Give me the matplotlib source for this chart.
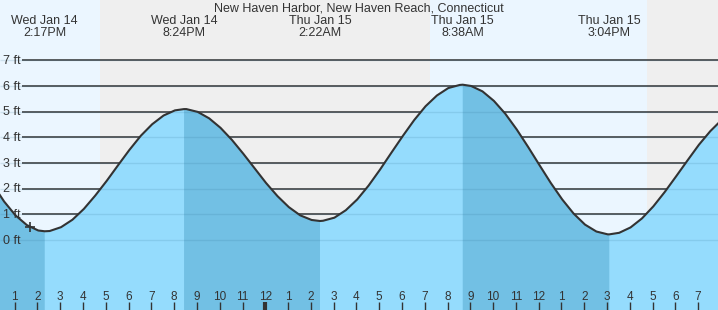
import numpy as np
import matplotlib
matplotlib.use("Agg")
import matplotlib.pyplot as plt
from matplotlib.transforms import blended_transform_factory

plt.rcParams['font.family'] = ['Liberation Sans', 'DejaVu Sans']

title = "New Haven Harbor, New Haven Reach, Connecticut"

# hours since Wed Jan 14 00:00, tide height in ft
hours = [12.0, 12.5, 13.0, 13.5, 14.0, 14.283, 14.5, 15.0, 15.5, 16.0, 16.5, 17.0,
         17.5, 18.0, 18.5, 19.0, 19.5, 20.0, 20.4, 20.5, 21.0, 21.5, 22.0, 22.5,
         23.0, 23.5, 24.0, 24.5, 25.0, 25.5, 26.0, 26.367, 26.5, 27.0, 27.5, 28.0,
         28.5, 29.0, 29.5, 30.0, 30.5, 31.0, 31.5, 32.0, 32.5, 32.633, 33.0, 33.5,
         34.0, 34.5, 35.0, 35.5, 36.0, 36.5, 37.0, 37.5, 38.0, 38.5, 39.0, 39.067,
         39.5, 40.0, 40.5, 41.0, 41.5, 42.0, 42.5, 43.0, 43.5, 44.0]
heights = [2.17, 1.50, 0.96, 0.58, 0.37, 0.34, 0.35, 0.50, 0.79, 1.21, 1.73, 2.30,
           2.91, 3.51, 4.06, 4.51, 4.85, 5.05, 5.10, 5.10, 4.99, 4.74, 4.37, 3.90,
           3.36, 2.79, 2.22, 1.71, 1.28, 0.96, 0.78, 0.74, 0.75, 0.87, 1.16, 1.58,
           2.12, 2.74, 3.40, 4.05, 4.67, 5.21, 5.63, 5.92, 6.04, 6.05, 6.00, 5.79,
           5.42, 4.92, 4.31, 3.63, 2.92, 2.22, 1.58, 1.03, 0.60, 0.33, 0.22, 0.22,
           0.28, 0.49, 0.84, 1.31, 1.87, 2.48, 3.10, 3.71, 4.24, 4.68]

extreme_times = [14.283, 20.4, 26.367, 32.633, 39.067]
extreme_days = ["Wed Jan 14", "Wed Jan 14", "Thu Jan 15", "Thu Jan 15", "Thu Jan 15"]
extreme_clock = ["2:17PM", "8:24PM", "2:22AM", "8:38AM", "3:04PM"]

falling_periods = [(12.0, 14.283), (20.4, 26.367), (32.633, 39.067)]
daylight = [(12.0, 16.71), (31.2, 40.71)]
darkness = [(16.71, 31.2), (40.71, 44.0)]

hour_ticks = list(range(13, 44))
hour_labels = ["1", "2", "3", "4", "5", "6", "7", "8", "9", "10", "11", "12",
               "1", "2", "3", "4", "5", "6", "7", "8", "9", "10", "11", "12",
               "1", "2", "3", "4", "5", "6", "7"]
midnight = 24
ft_ticks = [0, 1, 2, 3, 4, 5, 6, 7]
ft_labels = ["0 ft", "1 ft", "2 ft", "3 ft", "4 ft", "5 ft", "6 ft", "7 ft"]
now_time = 13.64

W, H = 718, 310
PX_H = 22.78   # px per hour
PX_F = 25.67   # px per ft
fig = plt.figure(figsize=(W / 100, H / 100), dpi=100)
ax = fig.add_axes([0, 0, 1, 1])
x0 = 13 - 15.5 / PX_H
x1 = 13 + (W - 15.5) / PX_H
y0 = (240 - 310) / PX_F
y1 = 240 / PX_F
ax.set_xlim(x0, x1)
ax.set_ylim(y0, y1)
ax.axis('off')

txt = '#333333'
for a, b in daylight:
    ax.axvspan(a, b, color='#ebf6ff', lw=0, zorder=0)
for a, b in darkness:
    ax.axvspan(a, b, color='#efefef', lw=0, zorder=0)

gx0 = 13 + (22 - 15.5) / PX_H
ax.hlines(ft_ticks, gx0, x1, colors='#333333', lw=1.1, zorder=1)

t = np.array(hours)
h = np.array(heights)
ax.fill_between(t, y0, h, color='#95dcfd', lw=0, zorder=2)
mask = np.zeros_like(t, dtype=bool)
for a, b in falling_periods:
    mask |= (t >= a - 1e-9) & (t <= b + 1e-9)
ax.fill_between(t, y0, h, where=mask, color='#72c0e4', lw=0, zorder=2.5)
ax.hlines(ft_ticks, x0, x1, colors='#2a6a90', lw=1.0, alpha=0.15, zorder=3)
ax.plot(t, h, color='#333333', lw=1.5, zorder=4, solid_capstyle='round')

ax.plot([now_time], [np.interp(now_time, t, h)], marker='+', ms=7, mew=1.2,
        color='#333333', zorder=5)

# y labels (baseline ~3.7 px below the grid line)
for v, lab in zip(ft_ticks, ft_labels):
    ax.text(x0 + 2.7 / PX_H, v - 3.8 / PX_F, lab, ha='left', va='baseline',
            fontsize=9, color=txt, zorder=6)

btr = blended_transform_factory(ax.transData, ax.transAxes)
for hv, lab in zip(hour_ticks, hour_labels):
    ax.text(hv - 0.035, 1 - 299.5 / H, lab, transform=btr, ha='center',
            va='baseline', fontsize=8.5, color=txt, zorder=6)
    ax.plot([hv - 0.035, hv - 0.035], [0, 8 / H], transform=btr, color=txt,
            lw=3 if hv == midnight else 1, zorder=6, solid_capstyle='butt')

for et, d, c in zip(extreme_times, extreme_days, extreme_clock):
    ax.text(et, 1 - 24.3 / H, d, transform=btr, ha='center', va='baseline',
            fontsize=9, color=txt, zorder=6)
    ax.text(et, 1 - 36.3 / H, c, transform=btr, ha='center', va='baseline',
            fontsize=9, color=txt, zorder=6)

fig.text(0.5, 1 - 11.3 / H, title, ha='center', va='baseline', fontsize=9,
         color=txt)

fig.savefig('out.png', dpi=100)
